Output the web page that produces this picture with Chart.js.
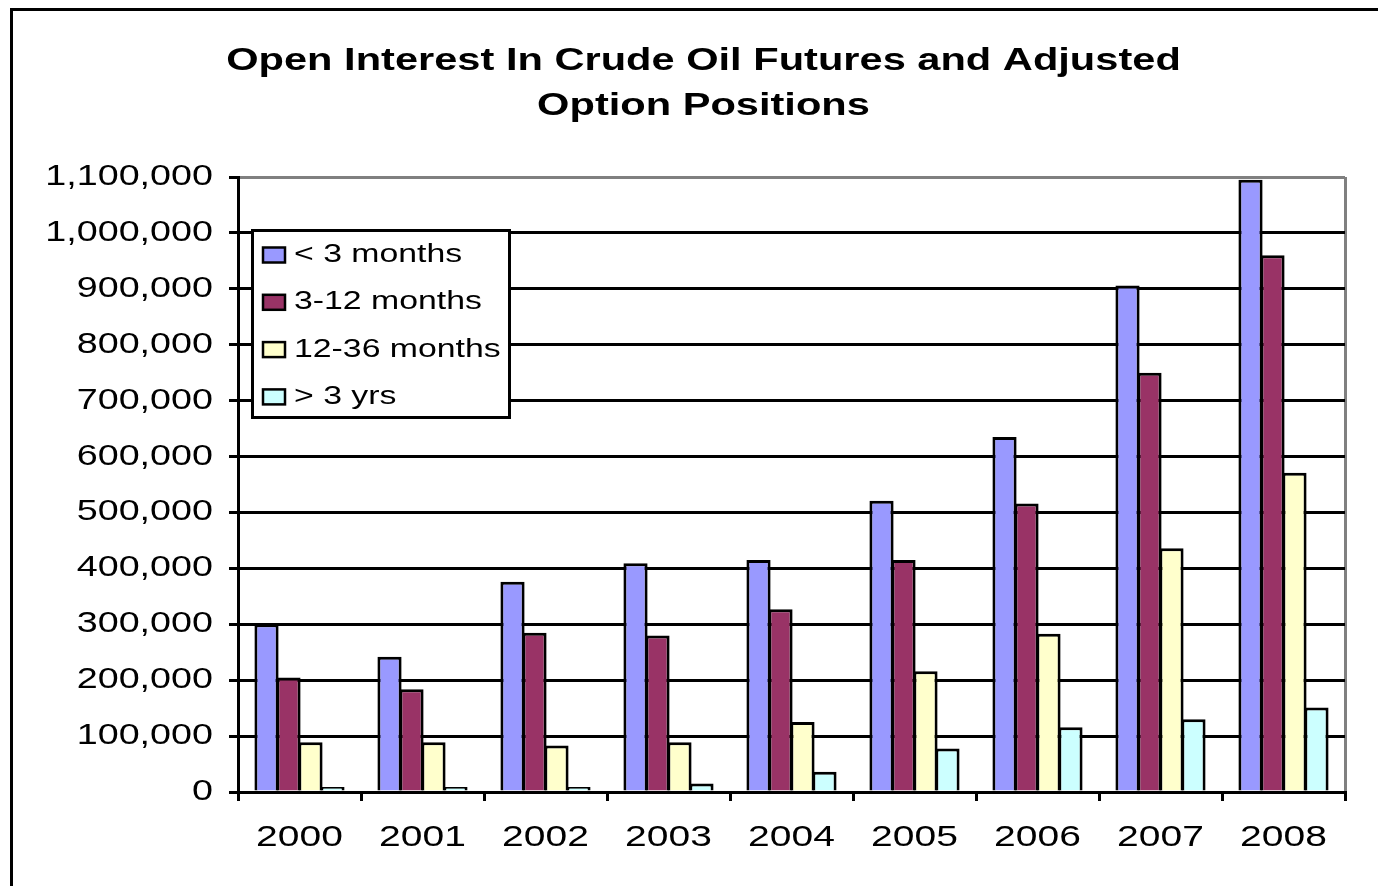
<!DOCTYPE html>
<html>
<head>
<meta charset="utf-8">
<script src="https://cdn.jsdelivr.net/npm/chart.js@4/dist/chart.umd.min.js"></script>
<style>
  html, body { margin: 0; padding: 0; background: #fff; }
  canvas { display: block; }
</style>
</head>
<body>
<canvas id="oilChart" width="1378" height="886"></canvas>
<script>
// Open interest in crude oil futures and adjusted option positions

const years = ["2000", "2001", "2002", "2003", "2004", "2005", "2006", "2007", "2008"];
const seriesNames = ["< 3 months", "3-12 months", "12-36 months", "> 3 yrs"];

const under3Months = [300000, 242000, 376000, 409000, 415000, 521000, 635000, 906000, 1095000];
const months3to12 = [205000, 184000, 285000, 280000, 327000, 415000, 516000, 750000, 960000];
const months12to36 = [89000, 89000, 83000, 89000, 125000, 216000, 283000, 436000, 571000];
const over3Years = [9000, 9000, 9000, 15000, 36000, 78000, 116000, 130000, 151000];

const yMax = 1100000;
const yStep = 100000;

const titleLines = ["Open Interest In Crude Oil Futures and Adjusted", "Option Positions"];
const seriesColors = ["#9999ff", "#993366", "#ffffcc", "#ccffff"];

// the source picture has its text stretched wide, so stretch every label the same way
const STRETCH = 1.3;
const canvas = document.getElementById("oilChart");
const ctx = canvas.getContext("2d");
const plainFillText = ctx.fillText;
ctx.fillText = function (text, x, y) {
  this.save();
  this.translate(x, y);
  this.scale(STRETCH, 1);
  plainFillText.call(this, text, 0, 0);
  this.restore();
};

Chart.defaults.font.family = "Arial, 'Liberation Sans', sans-serif";
Chart.defaults.color = "#000";

const seriesValues = [under3Months, months3to12, months12to36, over3Years];

const datasets = seriesNames.map((name, i) => ({
  label: name,
  data: seriesValues[i],
  backgroundColor: seriesColors[i],
  borderColor: "#000",
  borderWidth: 3,
  categoryPercentage: 0.715,
  barPercentage: 1.1,
}));

// outer frame of the picture (only top and left edges show)
const frame = {
  id: "frame",
  beforeDraw(chart) {
    const c = chart.ctx;
    c.save();
    c.strokeStyle = "#000";
    c.lineWidth = 3;
    c.beginPath();
    c.moveTo(11.5, chart.height);
    c.lineTo(11.5, 9.5);
    c.lineTo(chart.width, 9.5);
    c.stroke();
    c.restore();
  },
};

// the title is centred between x=62 and the plot's right edge in the source
const titleShift = {
  id: "titleShift",
  afterLayout(chart) {
    chart.titleBlock.left = 62;
  },
};

// boxed legend sitting inside the plot, top left
const boxLegend = {
  id: "boxLegend",
  afterDatasetsDraw(chart) {
    const c = chart.ctx;
    const area = chart.chartArea;
    const left = area.left + 13;
    const top = area.top + 52;
    const rowGap = 47.3;
    c.save();
    c.fillStyle = "#fff";
    c.fillRect(left, top, 260, 190);
    c.lineWidth = 3;
    c.strokeStyle = "#000";
    c.strokeRect(left + 1.5, top + 1.5, 257, 187);
    c.font = "26px Arial, 'Liberation Sans', sans-serif";
    c.textAlign = "left";
    c.textBaseline = "middle";
    chart.data.datasets.forEach((ds, i) => {
      const cy = top + 26 + i * rowGap;
      c.fillStyle = ds.backgroundColor;
      c.fillRect(left + 12, cy - 7.5, 22, 15);
      c.lineWidth = 2.5;
      c.strokeRect(left + 12, cy - 7.5, 22, 15);
      c.fillStyle = "#000";
      c.fillText(ds.label, left + 43, cy);
    });
    c.restore();
  },
};

const config = {
  type: "bar",
  data: {
    labels: years,
    datasets: datasets,
  },
  options: {
    responsive: false,
    animation: false,
    devicePixelRatio: 1,
    layout: {
      padding: { left: 20, right: 33, top: 0, bottom: 0 },
    },
    plugins: {
      legend: { display: false },
      tooltip: { enabled: false },
      title: {
        display: true,
        text: titleLines,
        color: "#000",
        font: { size: 32, weight: "bold", lineHeight: 45 / 32 },
        padding: { top: 39, bottom: 48 },
      },
    },
    scales: {
      x: {
        ticks: {
          font: { size: 30 },
          color: "#000",
          padding: 19,
          maxRotation: 0,
          autoSkip: false,
        },
        grid: {
          lineWidth: 3,
          tickLength: 9,
          tickColor: "#000",
          color: (c) => (c.type === "scale" ? "#808080" : "rgba(0,0,0,0)"),
        },
        border: { color: "#000", width: 3 },
        afterFit: (scale) => {
          scale.height = 94;
        },
      },
      y: {
        min: 0,
        max: yMax,
        ticks: {
          stepSize: yStep,
          font: { size: 29 },
          color: "#000",
          padding: 16,
          callback: (v) => v.toLocaleString("en-US"),
        },
        grid: {
          lineWidth: 3,
          tickLength: 9,
          tickColor: "#000",
          color: (c) => (c.tick && c.tick.value === yMax ? "#808080" : "#000"),
        },
        border: { color: "#000", width: 3 },
        afterFit: (scale) => {
          scale.width = 218;
        },
      },
    },
  },
  plugins: [frame, titleShift, boxLegend],
};

const oilChart = new Chart(ctx, config);
</script>
</body>
</html>
